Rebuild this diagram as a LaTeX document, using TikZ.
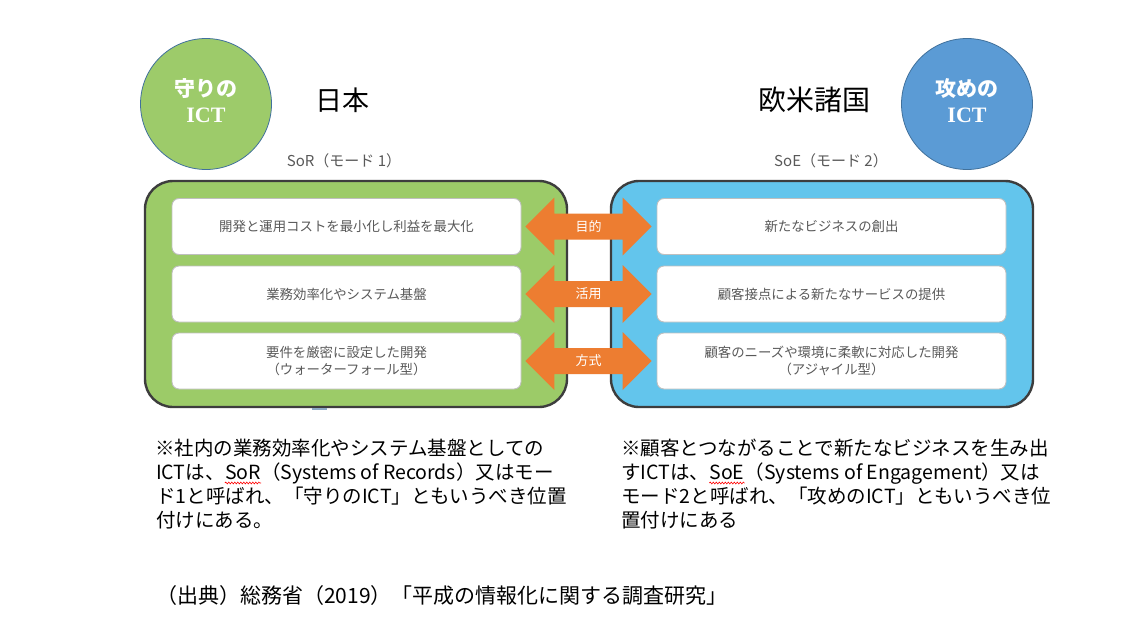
\documentclass[tikz,border=0pt]{standalone}
\usepackage{fontspec}
\setmainfont{Noto Sans CJK JP}
\newfontfamily\serifb{Liberation Serif}
\usetikzlibrary{calc,decorations.pathmorphing}
\definecolor{cgreen}{HTML}{9DCB6A}
\definecolor{bgreen}{HTML}{9CCB68}
\definecolor{cblue}{HTML}{5B9BD5}
\definecolor{bblue}{HTML}{63C5EC}
\definecolor{corange}{HTML}{ED7D31}
\definecolor{cline}{HTML}{41719C}
\definecolor{boxline}{HTML}{3D3D3D}
\definecolor{rowline}{HTML}{BFBFBF}
\definecolor{rowtext}{HTML}{595959}
\tikzset{
  badge/.style={circle, minimum size=131pt, draw=cline, line width=0.8pt, inner sep=0pt, text=white, align=center, font=\fontsize{21}{26}\selectfont\bfseries},
  bigbox/.style={draw=boxline, line width=2.4pt, rounded corners=28pt, minimum width=422pt, minimum height=226pt, inner sep=0pt},
  rowbox/.style={draw=rowline, fill=white, line width=0.9pt, rounded corners=7pt, minimum width=349pt, minimum height=56pt, inner sep=0pt, align=center, text=rowtext, font=\fontsize{13.4}{17}\selectfont},
  heading/.style={font=\fontsize{27}{30}\selectfont, inner sep=0pt},
  modelabel/.style={font=\fontsize{15}{17}\selectfont, text=rowtext, inner sep=0pt},
  arrowlab/.style={font=\fontsize{13}{14}\selectfont, text=white, inner sep=0pt},
  note/.style={font=\fontsize{19.5}{24}\selectfont, anchor=base west, inner sep=0pt},
  spell/.style={draw=red, line width=0.6pt, decorate, decoration={snake, amplitude=0.9pt, segment length=3pt}}
}
\begin{document}
\begin{tikzpicture}[x=1pt,y=-1pt]
\useasboundingbox (0,0) rectangle (1141,634);
\fill[white] (0,0) rectangle (1141,634);

% badges
\node[badge, fill=cgreen] (mamori) at (206,104) {};
\node[badge, fill=cblue] (seme) at (967,104) {};
\node[badge, draw=none, fill=none, minimum size=0pt] (mamoritext) at (206,101) {守りの\\{\serifb\bfseries\fontsize{22}{26}\selectfont ICT}};
\node[badge, draw=none, fill=none, minimum size=0pt] (emetext) at (967,101) {攻めの\\{\serifb\bfseries\fontsize{22}{26}\selectfont ICT}};
\node[heading] (jp) at (342,100) {日本};
\node[heading, font=\fontsize{28}{30}\selectfont] (west) at (814,100) {欧米諸国};

% mode labels
\node[modelabel] (sor) at (344,161) {SoR（モード 1）};
\node[modelabel] (soe) at (831,161) {SoE（モード 2）};

% big boxes
\node[bigbox, fill=bgreen] (gbox) at (356,294) {};
\node[bigbox, fill=bblue] (bbox) at (822,294) {};

% rows
\node[rowbox] (l1) at (346.5,226.5) {開発と運用コストを最小化し利益を最大化};
\node[rowbox] (l2) at (346.5,294) {業務効率化やシステム基盤};
\node[rowbox] (l3) at (346.5,361) {要件を厳密に設定した開発\\（ウォーターフォール型）};
\node[rowbox] (r1) at (831.5,226.5) {新たなビジネスの創出};
\node[rowbox] (r2) at (831.5,294) {顧客接点による新たなサービスの提供};
\node[rowbox] (r3) at (831.5,361) {顧客のニーズや環境に柔軟に対応した開発\\（アジャイル型）};

% double arrows
\foreach \i/\t in {1/目的,2/活用,3/方式}{
  \coordinate (a\i) at ($(l\i.east)+(4,0)$);
  \coordinate (b\i) at ($(r\i.west)+(-5,0)$);
  \fill[corange] (a\i) -- ++(29,-29) -- ++(0,16) -- ($(b\i)+(-29,-13)$) -- ++(0,-16) -- (b\i)
     -- ++(-29,29) -- ++(0,-16) -- ($(a\i)+(29,13)$) -- ++(0,16) -- cycle;
  \node[arrowlab] (lab\i) at ($(a\i)!0.5!(b\i)$) {\t};
}

% small mark below green box
\draw[color=cline!60, line width=1.5pt] (312,409) -- (327,409);

% notes left
\node[note] (n1) at (155,455) {※社内の業務効率化やシステム基盤としての};
\node[note] (n2a) at (156,479) {ICTは、};
\node[note] (n2b) at (n2a.base east) {SoR};
\node[note] (n2c) at (n2b.base east) {（Systems of Records）又はモー};
\node[note] (n3) at (156,503) {ド1と呼ばれ、「守りのICT」ともいうべき位置};
\node[note] (n4) at (156,527) {付けにある。};
\draw[spell] ($(n2b.base west)+(0,4)$) -- ($(n2b.base east)+(0,4)$);

% notes right
\node[note] (m1) at (621,455) {※顧客とつながることで新たなビジネスを生み出};
\node[note] (m2a) at (621,479) {すICTは、};
\node[note] (m2b) at (m2a.base east) {SoE};
\node[note] (m2c) at (m2b.base east) {（Systems of Engagement）又は};
\node[note] (m3) at (621,503) {モード2と呼ばれ、「攻めのICT」ともいうべき位};
\node[note] (m4) at (621,527) {置付けにある};
\draw[spell] ($(m2b.base west)+(0,4)$) -- ($(m2b.base east)+(0,4)$);

% source
\node[note, font=\fontsize{21}{24}\selectfont] (src) at (156,603) {（出典）総務省（2019）「平成の情報化に関する調査研究」};
\end{tikzpicture}
\end{document}
